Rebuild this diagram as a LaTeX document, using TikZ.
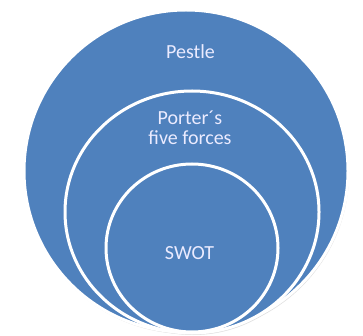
\documentclass[tikz,border=0pt]{standalone}
\usepackage{fontspec}
\setmainfont{Carlito}
\begin{document}
\begin{tikzpicture}[x=1pt,y=-1pt,
  ring/.style={fill=blobblue,draw=white,line width=3pt},
  shade/.style={fill=black!12,draw=none},
  lbl/.style={text=white!92!blue,font=\fontsize{20}{20}\selectfont,align=center,inner sep=0pt}]
\definecolor{blobblue}{HTML}{4F81BD}
\useasboundingbox (0,0) rectangle (363,336);
\fill[white] (0,0) rectangle (363,336);
% soft shadows
\fill[shade] (187,173) ellipse [x radius=162,y radius=161];
\fill[shade] (193,214) ellipse [x radius=127,y radius=121];
\fill[shade] (193,250) ellipse [x radius=86,y radius=84];
% rings
\path[ring] (186,171) ellipse [x radius=162,y radius=161];
\path[ring] (192,212) ellipse [x radius=127,y radius=121];
\path[ring] (192,248) ellipse [x radius=86,y radius=84];
\node[lbl] (pestle) at (190.5,52) {Pestle};
\node[lbl] (porter) at (190,128) {Porter´s\\five forces};
\node[lbl] (swot) at (189.5,253) {SWOT};
\end{tikzpicture}
\end{document}
